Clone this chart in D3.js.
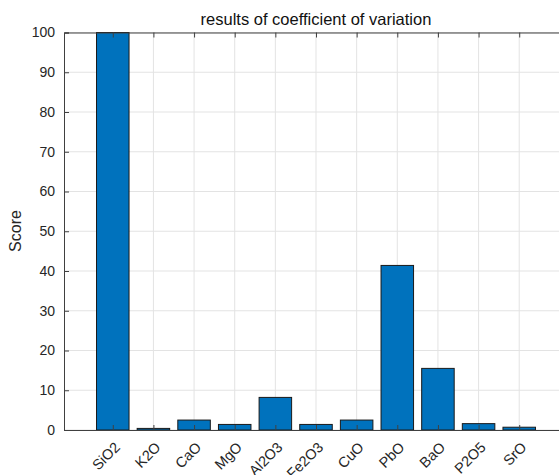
<!DOCTYPE html>
<html><head><meta charset="utf-8">
<script src="https://cdn.jsdelivr.net/npm/d3@7"></script>
<style>body{margin:0;background:#fff;}svg{display:block;font-family:"Liberation Sans",Arial,sans-serif;}</style>
</head><body>
<svg id="c" width="559" height="475"></svg>
<script>
const categories = ["SiO2","K2O","CaO","MgO","Al2O3","Fe2O3","CuO","PbO","BaO","P2O5","SrO"];
const scores = [100, 0.4, 2.5, 1.4, 8.2, 1.4, 2.5, 41.4, 15.5, 1.6, 0.7];
const yTicks = [0,10,20,30,40,50,60,70,80,90,100];
const titleText = "results of coefficient of variation";
const yLabel = "Score";

const svg = d3.select("#c");
const L = 64, R = 568, T = 32.5, B = 430;
const x = d3.scaleLinear().domain([-0.2, 12.2]).range([L, R]);
const y = d3.scaleLinear().domain([0, 100]).range([B, T]);
const idx = categories.map((d,i)=>i+1);
const bw = x(0.8) - x(0);
const axisCol = "#404040", textCol = "#262626";

// grid
const g = svg.append("g");
g.selectAll(".gy").data(yTicks).join("line")
  .attr("x1", L).attr("x2", R).attr("y1", d=>y(d)).attr("y2", d=>y(d))
  .attr("stroke", "#e3e3e3").attr("stroke-width", 1);
g.selectAll(".gx").data(idx).join("line")
  .attr("x1", d=>x(d)).attr("x2", d=>x(d)).attr("y1", T).attr("y2", B)
  .attr("stroke", "#e3e3e3").attr("stroke-width", 1);

// bars
svg.append("g").selectAll("rect").data(scores).join("rect")
  .attr("x", (d,i)=>x(i+1) - bw/2)
  .attr("width", bw)
  .attr("y", d=>y(d))
  .attr("height", d=>B - y(d))
  .attr("fill", "#0072BD")
  .attr("stroke", "#1a1a1a").attr("stroke-width", 1);

// axes
const ya = svg.append("g").attr("transform", `translate(${L},0)`)
  .call(d3.axisLeft(y).tickValues(yTicks).tickSize(-5).tickPadding(9));
const xb = svg.append("g").attr("transform", `translate(0,${B})`)
  .call(d3.axisBottom(x).tickValues(idx).tickSize(-5).tickFormat(""));
const xt = svg.append("g").attr("transform", `translate(0,${T})`)
  .call(d3.axisTop(x).tickValues(idx).tickSize(-5).tickFormat(""));
[ya, xb, xt].forEach(a=>{
  a.select(".domain").attr("stroke", axisCol).attr("stroke-width", 1);
  a.selectAll(".tick line").attr("stroke", axisCol);
});
ya.selectAll("text").attr("font-size", 14).attr("fill", textCol).attr("font-family", "Liberation Sans, Arial, sans-serif");

// x labels rotated
svg.append("g").selectAll("text").data(categories).join("text")
  .attr("transform", (d,i)=>`translate(${x(i+1)+1},${B+11}) rotate(-45)`)
  .attr("text-anchor", "end")
  .attr("dy", "0.7em")
  .attr("font-size", 14.5).attr("fill", textCol)
  .text(d=>d);

// title
svg.append("text").attr("x", 316).attr("y", 25).attr("text-anchor", "middle")
  .attr("font-size", 16.5).attr("fill", "#111").text(titleText);

// y label
svg.append("text").attr("transform", `translate(21,231) rotate(-90)`)
  .attr("text-anchor", "middle").attr("font-size", 16).attr("fill", textCol).text(yLabel);
</script>
</body></html>
